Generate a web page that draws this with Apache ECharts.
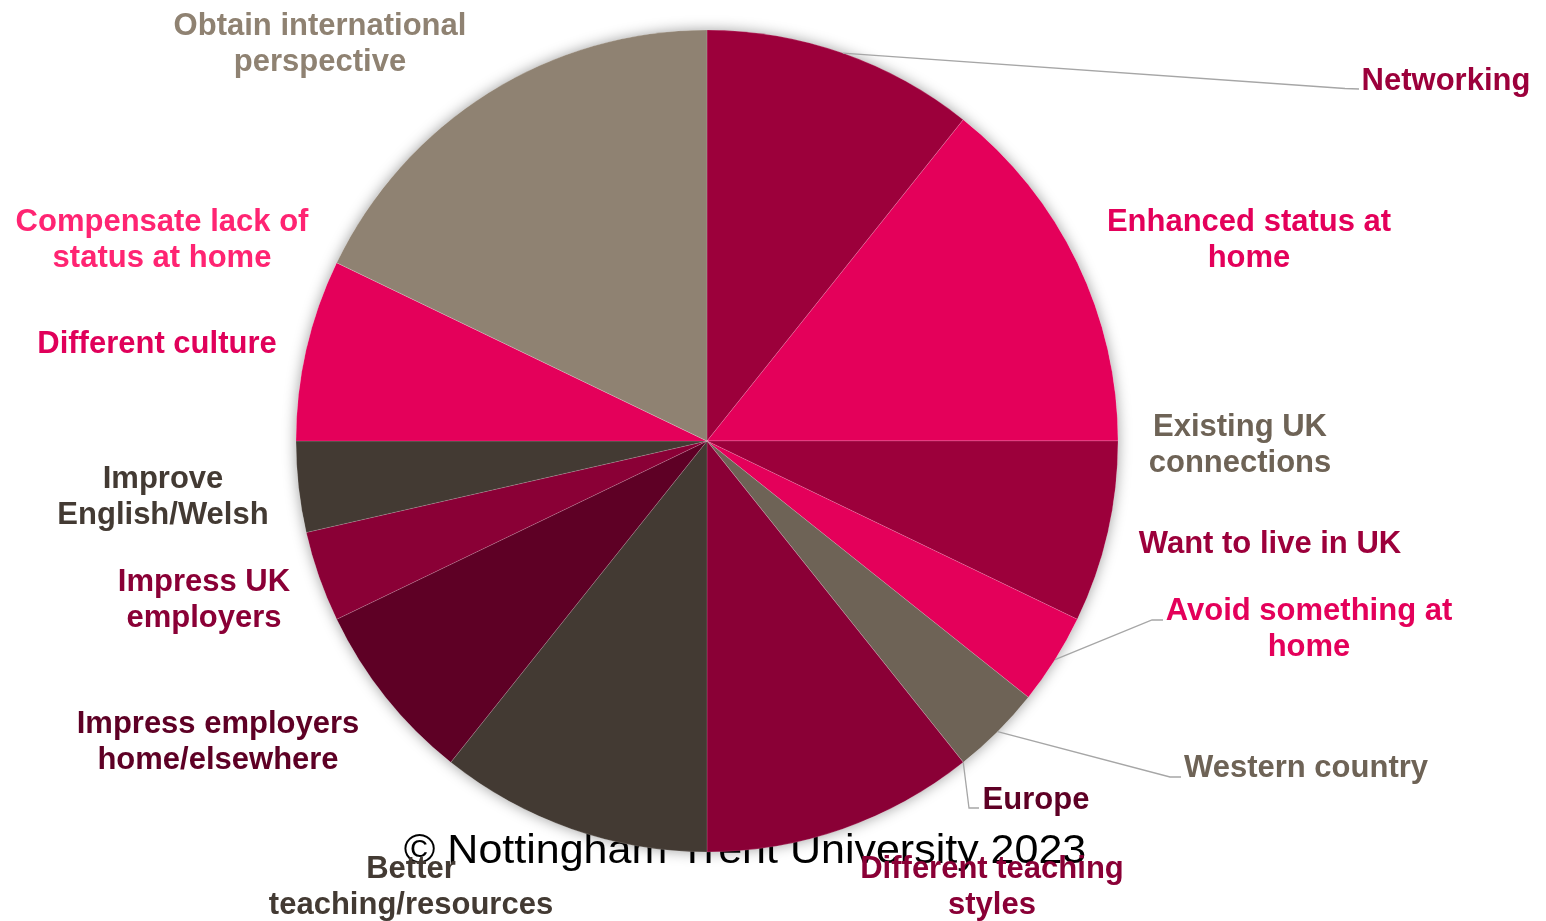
<!DOCTYPE html>
<html>
<head>
<meta charset="utf-8">
<title>Reasons for studying in the UK</title>
<script src="https://cdn.jsdelivr.net/npm/echarts@6/dist/echarts.min.js"></script>
<style>
  html, body { margin: 0; padding: 0; background: #ffffff; }
  #chart { width: 1546px; height: 921px; }
</style>
</head>
<body>
<div id="chart"></div>
<script>
// Reasons given, clockwise from 12 o'clock
const categories = [
  'Networking',
  'Enhanced status at\nhome',
  'Existing UK\nconnections',
  'Want to live in UK',
  'Avoid something at\nhome',
  'Western country',
  'Europe',
  'Different teaching\nstyles',
  'Better\nteaching/resources',
  'Impress employers\nhome/elsewhere',
  'Impress UK\nemployers',
  'Improve\nEnglish/Welsh',
  'Different culture',
  'Compensate lack of\nstatus at home',
  'Obtain international\nperspective'
];

// Number of mentions per reason
const responses = [3, 4, 0, 2, 1, 1, 0, 3, 3, 2, 1, 1, 2, 0, 5];

const sliceColors = [
  '#9C003B', '#E4005A', '#6E6356', '#9C003B', '#E4005A',
  '#6E6356', '#5E0025', '#8A0036', '#433A33', '#5E0025',
  '#8A0036', '#433A33', '#E4005A', '#FF2472', '#8F8272'
];

const labelColors = [
  '#9C003B', '#E4005A', '#6E6356', '#9C003B', '#E4005A',
  '#6E6356', '#5E0025', '#8A0036', '#433A33', '#5E0025',
  '#8A0036', '#433A33', '#E0005A', '#FF2472', '#8F8272'
];

const copyrightText = '\u00A9 Nottingham Trent University 2023';

// Pie geometry
const PIE_CENTER = [707, 441];
const PIE_RADIUS = 411;

// Where each label sits (text centre) and, for callouts, the leader-line elbow + end
const labelSpots = [
  { x: 1446, y: 81,  elbow: [[1345, 88.5], [1359, 89]] },
  { x: 1249, y: 240 },
  { x: 1240, y: 445 },
  { x: 1270, y: 544 },
  { x: 1309, y: 629, elbow: [[1152, 620], [1163, 620]] },
  { x: 1306, y: 768, elbow: [[1170, 777], [1181, 777]] },
  { x: 1036, y: 800, elbow: [[969, 808], [979, 808]] },
  { x: 992,  y: 887 },
  { x: 411,  y: 887 },
  { x: 218,  y: 742 },
  { x: 204,  y: 600 },
  { x: 163,  y: 497 },
  { x: 157,  y: 344 },
  { x: 162,  y: 240 },
  { x: 320,  y: 44 }
];

const FONT = "'Liberation Sans', Arial, Helvetica, sans-serif";

const chart = echarts.init(document.getElementById('chart'), null, { renderer: 'canvas' });

const pieBase = {
  type: 'pie',
  center: PIE_CENTER,
  radius: PIE_RADIUS,
  startAngle: 90,
  clockwise: true,
  avoidLabelOverlap: false,
  silent: true
};

const option = {
  backgroundColor: '#ffffff',
  animation: false,
  // copyright line: sits behind the slices, in front of the drop shadow
  graphic: [{
    type: 'text',
    z: 2,
    x: 745,
    y: 852,
    scaleY: 0.93,
    style: {
      text: copyrightText,
      fill: '#000000',
      font: '43px ' + FONT,
      align: 'center',
      verticalAlign: 'middle'
    }
  }],
  series: [
    // soft drop shadow under the whole disc
    Object.assign({}, pieBase, {
      z: 1,
      data: [{ value: 1, name: 'disc' }],
      itemStyle: {
        color: '#ffffff',
        shadowBlur: 14,
        shadowColor: 'rgba(0,0,0,0.38)'
      },
      label: { show: false },
      labelLine: { show: false }
    }),
    // slices
    Object.assign({}, pieBase, {
      z: 3,
      data: categories.map((name, i) => ({
        name: name,
        value: responses[i],
        itemStyle: { color: sliceColors[i] }
      })),
      itemStyle: {
        borderColor: 'rgba(255,255,255,0.28)',
        borderWidth: 0.5
      },
      label: { show: false },
      labelLine: { show: false }
    }),
    // labels and callout lines
    Object.assign({}, pieBase, {
      z: 4,
      data: categories.map((name, i) => ({
        name: name,
        value: responses[i],
        label: { color: labelColors[i] },
        labelLine: { show: !!labelSpots[i].elbow }
      })),
      itemStyle: { color: 'rgba(0,0,0,0)', borderWidth: 0 },
      label: {
        show: true,
        position: 'outside',
        formatter: '{b}',
        fontFamily: FONT,
        fontWeight: 'bold',
        fontSize: 31,
        lineHeight: 36,
        width: 440,
        overflow: 'none',
        align: 'center'
      },
      labelLine: {
        show: true,
        smooth: false,
        length: 20,
        length2: 20,
        lineStyle: { color: '#A6A6A6', width: 1.3 }
      },
      labelLayout: function (params) {
        const spot = labelSpots[params.dataIndex];
        const out = {
          x: spot.x,
          y: spot.y,
          align: 'center',
          verticalAlign: 'middle'
        };
        if (spot.elbow && params.labelLinePoints && params.labelLinePoints.length) {
          out.labelLinePoints = [
            params.labelLinePoints[0],
            spot.elbow[0],
            spot.elbow[1]
          ];
        }
        return out;
      }
    })
  ]
};

chart.setOption(option);
</script>
</body>
</html>
